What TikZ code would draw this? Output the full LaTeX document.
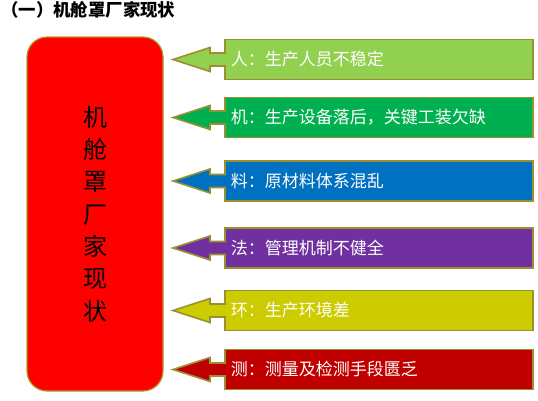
\documentclass[tikz,border=0pt]{standalone}
\usepackage{fontspec}
\newfontfamily\cjk{Noto Sans CJK SC}
\definecolor{edgeolive}{HTML}{9A9030}
\definecolor{edgegold}{HTML}{B09A20}
\definecolor{renfill}{HTML}{92D050}
\definecolor{jifill}{HTML}{00B050}
\definecolor{liaofill}{HTML}{0070C0}
\definecolor{fafill}{HTML}{7030A0}
\definecolor{huanfill}{HTML}{CCCC00}
\definecolor{cefill}{HTML}{C00000}
\tikzset{
  mainbox/.style={draw=edgegold, line width=1.2pt, fill=red, rounded corners=20pt,
    minimum width=136pt, minimum height=354pt, align=center, inner sep=0pt,
    font=\cjk\fontsize{24}{32.3}\selectfont},
  callbox/.style={draw=edgeolive, line width=1.6pt, rectangle, anchor=west,
    minimum height=40pt, text width=296pt, inner xsep=6pt, align=left,
    text=white, font=\cjk\fontsize{17}{19}\selectfont},
  callarrow/.style={draw=edgeolive, line width=1.6pt, line join=miter}
}
% arrow pointing left out of a box
\newcommand{\tailarrow}[2]{%
  \filldraw[callarrow, fill=#2] (#1.west) ++(2,-6.5) -- ++(-16,0) -- ++(0,-5.5)
    -- ++(-37,12) -- ++(37,12) -- ++(0,-5.5) -- ++(16,0);}
\begin{document}
\begin{tikzpicture}[x=1pt,y=-1pt]
  \useasboundingbox (0,0) rectangle (538,400);
  \node[anchor=west, inner sep=0pt, font=\cjk\bfseries\fontsize{17.4}{19}\selectfont]
    (title) at (1,10) {（一）机舱罩厂家现状};
  \node[mainbox] (main) at (95,214) {机\\舱\\罩\\厂\\家\\现\\状};
  \node[callbox, fill=renfill] (ren) at (224,59.5) {人：生产人员不稳定};
  \node[callbox, fill=jifill] (ji) at (224,117.5) {机：生产设备落后，关键工装欠缺};
  \node[callbox, fill=liaofill] (liao) at (224,181) {料：原材料体系混乱};
  \node[callbox, fill=fafill] (fa) at (224,248) {法：管理机制不健全};
  \node[callbox, fill=huanfill] (huan) at (224,310.5) {环：生产环境差};
  \node[callbox, fill=cefill] (ce) at (224,369.5) {测：测量及检测手段匮乏};
  \tailarrow{ren}{renfill}
  \tailarrow{ji}{jifill}
  \tailarrow{liao}{liaofill}
  \tailarrow{fa}{fafill}
  \tailarrow{huan}{huanfill}
  \tailarrow{ce}{cefill}
\end{tikzpicture}
\end{document}
